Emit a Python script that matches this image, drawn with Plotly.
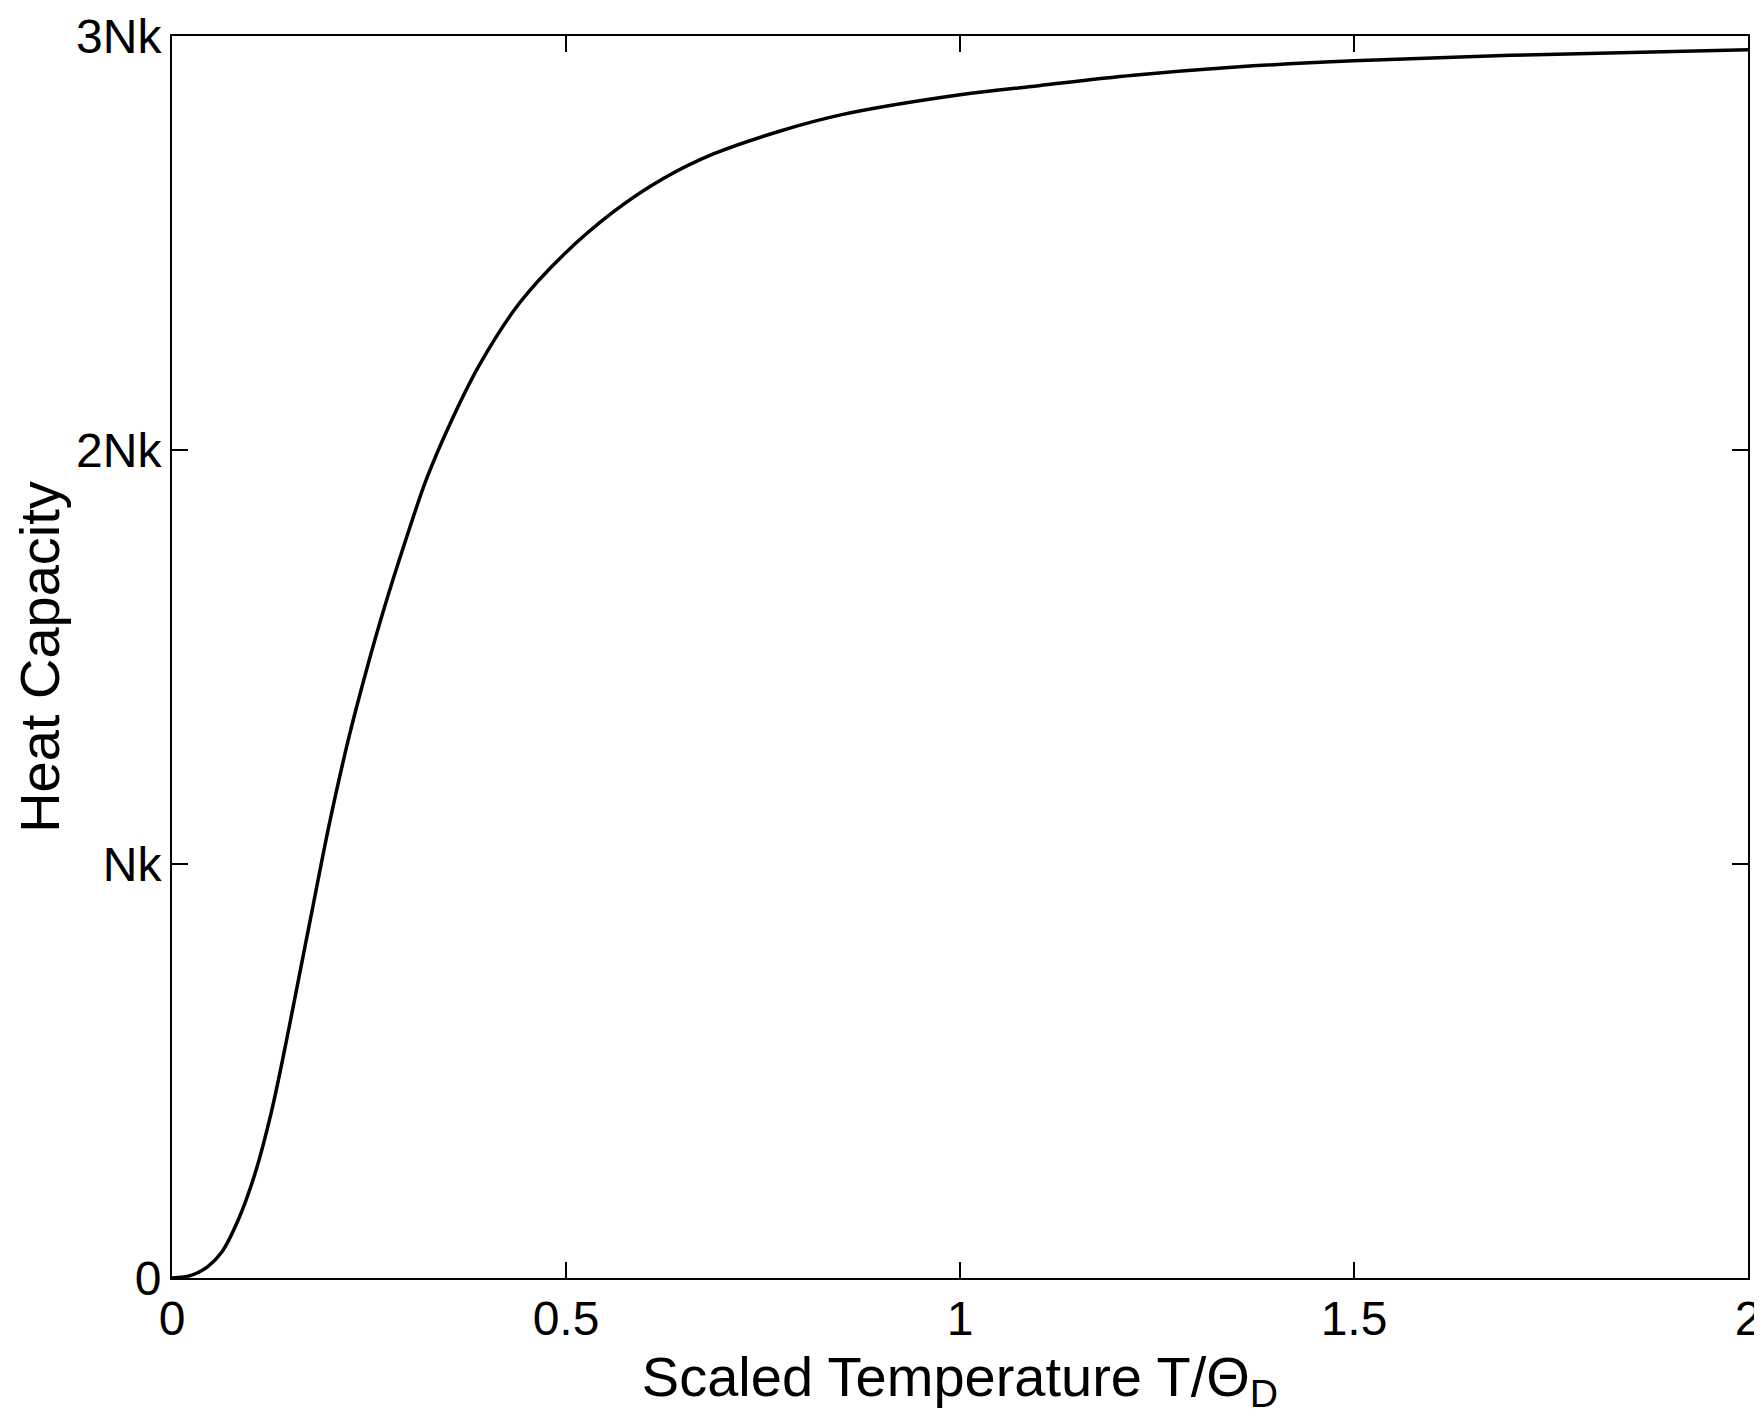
import plotly.graph_objects as go

# Scaled temperature T/Theta_D
temperature = [0, 0.025, 0.045, 0.063, 0.084, 0.105, 0.126, 0.147, 0.162, 0.177,
               0.200, 0.225, 0.247, 0.268, 0.297, 0.323, 0.352, 0.390, 0.441,
               0.496, 0.560, 0.623, 0.687, 0.771, 0.85, 1.0, 1.1, 1.22, 1.35,
               1.5, 1.73, 2.0]
# Heat capacity in units of Nk
heat_capacity = [0, 0.007, 0.027, 0.062, 0.14, 0.25, 0.40, 0.59, 0.735, 0.88,
                 1.10, 1.31, 1.47, 1.61, 1.785, 1.93, 2.06, 2.205, 2.355,
                 2.47, 2.575, 2.655, 2.715, 2.77, 2.81, 2.858, 2.88, 2.905, 2.925,
                 2.94, 2.955, 2.967]

x_tickvals = [0, 0.5, 1, 1.5, 2]
x_ticktext = ["0", "0.5", "1", "1.5", "2"]
y_tickvals = [0, 1, 2, 3]
y_ticktext = ["0", "Nk", "2Nk", "3Nk"]

FONT = "Liberation Sans, Arial, sans-serif"

fig = go.Figure()
fig.add_trace(go.Scatter(
    x=temperature, y=heat_capacity, mode="lines",
    line=dict(color="black", width=3.5, shape="spline", smoothing=1.0),
    showlegend=False, hoverinfo="skip", cliponaxis=False,
))

axis_common = dict(
    showline=True, linecolor="black", linewidth=2, mirror="ticks",
    ticks="inside", ticklen=16, tickwidth=1.5, tickcolor="black",
    showgrid=False, zeroline=False, automargin=False,
    tickfont=dict(family=FONT, size=48, color="black"),
)

fig.update_xaxes(
    range=[0, 2], tickvals=x_tickvals, ticktext=x_ticktext,
    title=dict(text="Scaled Temperature T/Θ<sub>D</sub>",
               font=dict(family=FONT, size=56, color="black"), standoff=0),
    ticklabelstandoff=-3,
    **axis_common,
)
fig.update_yaxes(
    range=[0, 3], tickvals=y_tickvals, ticktext=y_ticktext,
    title=dict(text="Heat Capacity",
               font=dict(family=FONT, size=56, color="black"), standoff=10),
    ticklabelstandoff=-1,
    **axis_common,
)

# the page body adds an 8px offset, so the figure is sized to fit the window
fig.update_layout(
    width=1754, height=1412,
    margin=dict(l=164, r=14, t=28, b=142, autoexpand=False),
    paper_bgcolor="white", plot_bgcolor="white",
    font=dict(family=FONT, color="black"),
)

fig.write_html("out.html")
